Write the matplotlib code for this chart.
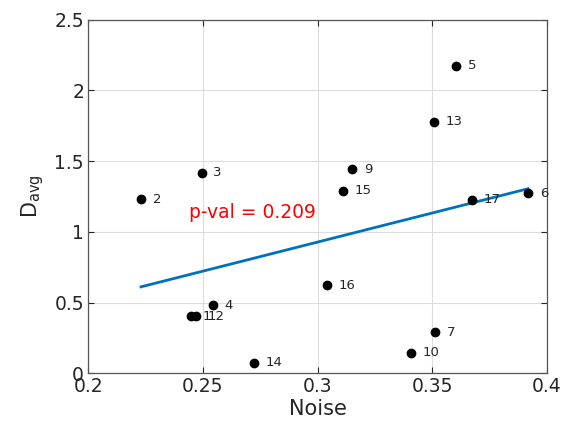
import numpy as np
import matplotlib
matplotlib.use("Agg")
import matplotlib.pyplot as plt

# noise vs D_avg per subject
ids = [1, 2, 3, 4, 5, 6, 7, 9, 10, 12, 13, 14, 15, 16, 17]
noise = [0.2448, 0.2230, 0.2494, 0.2544, 0.3606, 0.3918, 0.3513, 0.3152,
         0.3409, 0.2468, 0.3507, 0.2724, 0.3111, 0.3041, 0.3674]
d_avg = [0.405, 1.231, 1.417, 0.481, 2.175, 1.273, 0.290, 1.443,
         0.146, 0.405, 1.777, 0.075, 1.291, 0.624, 1.226]
p_val = 0.209

xticks = [0.2, 0.25, 0.3, 0.35, 0.4]
yticks = [0, 0.5, 1, 1.5, 2, 2.5]

plt.rcParams['font.family'] = 'DejaVu Sans'
ax_col = '#262626'

fig = plt.figure(figsize=(5.62, 4.28), dpi=100)
ax = fig.add_axes([0.1571, 0.1278, 0.8157, 0.8262])

x = np.array(noise)
y = np.array(d_avg)
ax.plot(x, y, 'o', color='k', markersize=6, zorder=3)
for i, xi, yi in zip(ids, x, y):
    ax.annotate(str(i), (xi, yi), xytext=(8.5, 0), textcoords='offset points',
                va='center', ha='left', fontsize=9.5, color=ax_col, zorder=4)

# linear fit
coef = np.polyfit(x, y, 1)
xf = np.array([x.min(), x.max()])
ax.plot(xf, np.polyval(coef, xf), color='#0072BD', linewidth=2, zorder=2)

ax.text(0.2441, 1.14, f"p-val = {p_val}", color='red', fontsize=13.5,
        va='center', ha='left')

ax.set_xlim(0.2, 0.4)
ax.set_ylim(0, 2.5)
ax.set_xticks(xticks)
ax.set_xticklabels([f"{t:g}" for t in xticks])
ax.set_yticks(yticks)
ax.set_yticklabels([f"{t:g}" for t in yticks])
ax.grid(True, color='#dcdcdc', linewidth=0.8)
ax.set_axisbelow(True)
ax.tick_params(direction='in', length=4, labelsize=13.5, colors=ax_col,
               top=True, right=True, pad=3)
for s in ax.spines.values():
    s.set_color('#555555')
    s.set_linewidth(0.9)

ax.set_xlabel('Noise', fontsize=15, color=ax_col, labelpad=2)
ax.set_ylabel('D$_{\\mathregular{avg}}$', fontsize=15, color=ax_col, labelpad=6)

fig.savefig('out.png', dpi=100)
